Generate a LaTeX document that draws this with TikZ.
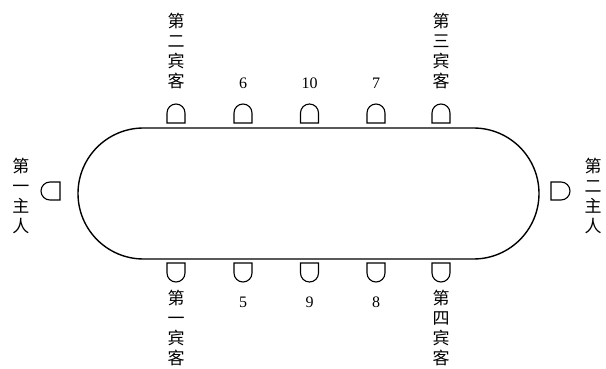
\documentclass[tikz,border=0pt]{standalone}
\usepackage{fontspec}
\setmainfont{Liberation Serif}
\newfontfamily\cjk{Noto Sans CJK SC}
\begin{document}
\begin{tikzpicture}[x=1pt,y=1pt,
  tablepath/.style={line width=1.4pt},
  chairpath/.style={line width=1.1pt},
  vlabel/.style={font=\cjk\fontsize{17}{20}\selectfont, align=center, inner sep=0pt, text width=20pt},
  numlabel/.style={font=\fontsize{16}{18}\selectfont, inner sep=0pt},
  chair/.pic={\draw[chairpath] (-9,0) -- (-9,10) arc (180:0:9) -- (9,0) -- cycle;}
]
\useasboundingbox (0,0) rectangle (606,369);
% table
\draw[tablepath] (143.5,241) -- (473.5,241) arc (90:-90:65.5) -- (143.5,110) arc (270:90:65.5) -- cycle;
% top chairs
\foreach \cx in {176,243,309.5,376,441} {\pic at (\cx,246) {chair};}
% bottom chairs
\foreach \cx in {176,243,309.5,376,441} {\pic[rotate=180] at (\cx,106) {chair};}
% side chairs
\pic[rotate=90] at (60,178) {chair};
\pic[rotate=-90] at (551,178) {chair};
% labels
\node[vlabel] (g2) at (176,318) {第\\二\\宾\\客};
\node[vlabel] (g3) at (441,318) {第\\三\\宾\\客};
\node[vlabel] (g1) at (176,41) {第\\一\\宾\\客};
\node[vlabel] (g4) at (441,41) {第\\四\\宾\\客};
\node[vlabel] (h1) at (21,173) {第\\一\\主\\人};
\node[vlabel] (h2) at (593,173) {第\\二\\主\\人};
\node[numlabel] (n6) at (243,286) {6};
\node[numlabel] (n10) at (309.5,286) {10};
\node[numlabel] (n7) at (376,286) {7};
\node[numlabel] (n5) at (243,67) {5};
\node[numlabel] (n9) at (309.5,67) {9};
\node[numlabel] (n8) at (376,67) {8};
\end{tikzpicture}
\end{document}
